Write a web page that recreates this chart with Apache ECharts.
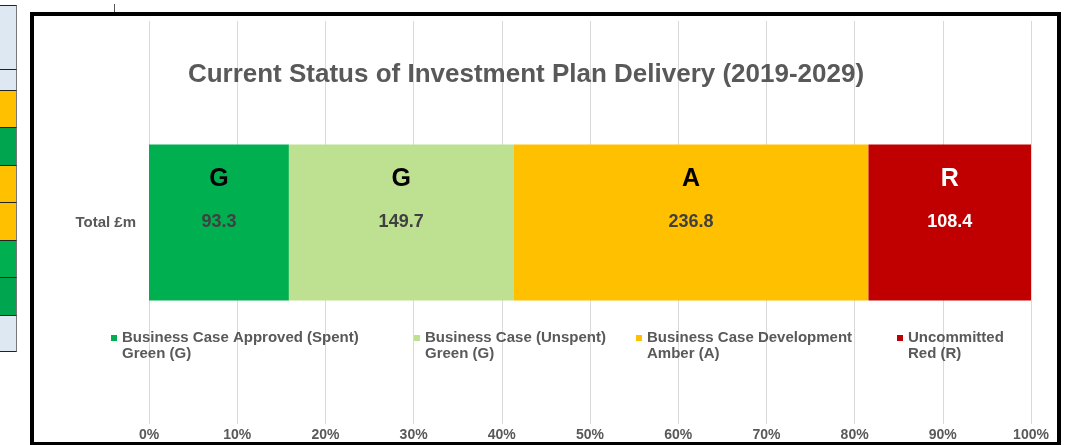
<!DOCTYPE html>
<html>
<head>
<meta charset="utf-8">
<script src="https://cdn.jsdelivr.net/npm/echarts@6/dist/echarts.min.js"></script>
<style>
  html, body { margin: 0; padding: 0; background: #fff; }
  #wrap { position: relative; width: 1066px; height: 445px; overflow: hidden; }
  #frame { position: absolute; left: 30px; top: 12px; width: 1023px; height: 426px; border: 4px solid #000; background: #fff; }
  #chart { position: absolute; left: 0; top: 0; width: 1066px; height: 445px; }
  .cell { position: absolute; left: 0; width: 17px; border-top: 1px solid #222; border-right: 1px solid #777; box-sizing: border-box; }
  #tick { position: absolute; left: 114px; top: 4px; width: 1px; height: 9px; background: #555; }
</style>
</head>
<body>
<div id="wrap">
  <div id="cells"></div>
  <div id="tick"></div>
  <div id="frame"></div>
  <div id="chart"></div>
</div>
<script>
// data
const categories = ['Total £m'];
const seriesNames = [
  'Business Case Approved (Spent)',
  'Business Case (Unspent)',
  'Business Case Development',
  'Uncommitted'
];
const seriesSubNames = ['Green (G)', 'Green (G)', 'Amber (A)', 'Red (R)'];
const ragLetters = ['G', 'G', 'A', 'R'];
const values = [93.3, 149.7, 236.8, 108.4];
const colors = ['#00b050', '#bde191', '#ffc000', '#c00000'];

// spreadsheet cells peeking in at the left edge
const cellEdges = [5, 69, 90, 127, 165, 202, 240, 277, 315, 352];
const cellColors = ['#dde8f3', '#dde8f3', '#ffc000', '#00a54f', '#ffc000', '#ffc000', '#00b050', '#00a54f', '#dde8f3'];
const cellBox = document.getElementById('cells');
cellColors.forEach((c, i) => {
  const d = document.createElement('div');
  d.className = 'cell';
  d.style.top = cellEdges[i] + 'px';
  d.style.height = (cellEdges[i + 1] - cellEdges[i]) + 'px';
  d.style.background = c;
  if (i === cellColors.length - 1) d.style.borderBottom = '1px solid #222';
  cellBox.appendChild(d);
});

const total = values.reduce((a, b) => a + b, 0);
const font = '"Liberation Sans", Arial, sans-serif';

const chart = echarts.init(document.getElementById('chart'), null, { renderer: 'canvas' });

const series = values.map((v, i) => {
  const light = i === 3;
  return {
    name: seriesNames[i],
    type: 'bar',
    stack: 'total',
    barWidth: 156,
    itemStyle: { color: colors[i] },
    label: {
      show: true,
      position: 'inside',
      formatter: () => '{l|' + ragLetters[i] + '}\n{v|' + v.toFixed(1) + '}\n{e| }',
      rich: {
        l: { fontFamily: font, fontWeight: 'bold', fontSize: 25, lineHeight: 43, color: light ? '#fff' : '#000' },
        v: { fontFamily: font, fontWeight: 'bold', fontSize: 18, lineHeight: 43, color: light ? '#fff' : '#404040' },
        e: { fontSize: 18, lineHeight: 43 }
      }
    },
    emphasis: { disabled: true },
    data: [v / total * 100]
  };
});

const legendLeft = [111, 414, 636, 897];
const legends = seriesNames.map((n, i) => ({
  data: [n],
  left: legendLeft[i],
  top: 314,
  padding: 0,
  orient: 'horizontal',
  itemWidth: 6,
  itemHeight: 6,
  icon: 'rect',
  selectedMode: false,
  formatter: name => ' \n' + name + '\n' + seriesSubNames[i],
  textStyle: { fontFamily: font, fontWeight: 'bold', fontSize: 15, lineHeight: 16, color: '#595959' }
}));

chart.setOption({
  animation: false,
  backgroundColor: 'transparent',
  title: {
    text: 'Current Status of Investment Plan Delivery (2019-2029)',
    left: 521,
    top: 57,
    textAlign: 'center',
    textStyle: { fontFamily: font, fontWeight: 'bold', fontSize: 26, color: '#595959' }
  },
  legend: legends,
  grid: { left: 149, right: 35, top: 21, bottom: 21 },
  xAxis: {
    type: 'value',
    min: 0,
    max: 100,
    interval: 10,
    axisLine: { show: false },
    axisTick: { show: false },
    splitLine: { lineStyle: { color: '#d9d9d9', width: 1 } },
    axisLabel: {
      margin: 4,
      formatter: val => val + '%',
      fontFamily: font, fontWeight: 'bold', fontSize: 14, color: '#595959'
    }
  },
  yAxis: {
    type: 'category',
    data: categories,
    axisLine: { show: false },
    axisTick: { show: false },
    axisLabel: { margin: 13, fontFamily: font, fontWeight: 'bold', fontSize: 15, color: '#595959' }
  },
  series: series
});
</script>
</body>
</html>
